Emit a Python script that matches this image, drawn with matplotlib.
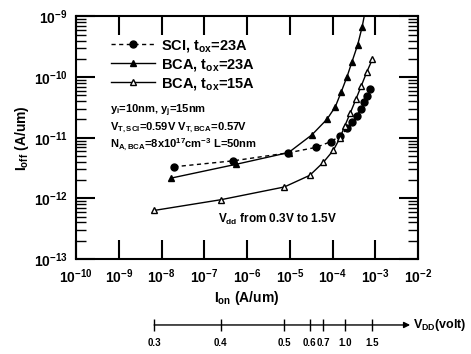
import numpy as np
import matplotlib
matplotlib.use("Agg")
import matplotlib.pyplot as plt
from matplotlib.ticker import LogLocator, NullLocator, FixedLocator

plt.rcParams["font.family"] = ["Liberation Sans", "DejaVu Sans"]
plt.rcParams["font.weight"] = "bold"
plt.rcParams["mathtext.fontset"] = "custom"
plt.rcParams["mathtext.rm"] = "Liberation Sans:bold"
plt.rcParams["mathtext.it"] = "Liberation Sans:bold"
plt.rcParams["mathtext.bf"] = "Liberation Sans:bold"
plt.rcParams["mathtext.default"] = "bf"

# supply voltage sweep 0.3 V .. 1.5 V
vdd = [0.3, 0.4, 0.5, 0.6, 0.7, 0.8, 0.9, 1.0, 1.1, 1.2, 1.3, 1.4, 1.5]

# SCI, tox = 23A
ion_sci = [1.97e-8, 4.75e-7, 9.2e-6, 4.18e-5, 9.2e-5, 1.52e-4, 2.22e-4,
           2.91e-4, 3.7e-4, 4.6e-4, 5.56e-4, 6.53e-4, 7.7e-4]
ioff_sci = [3.32e-12, 4.16e-12, 5.64e-12, 6.95e-12, 8.65e-12, 1.07e-11, 1.43e-11,
            1.8e-11, 2.3e-11, 2.99e-11, 3.9e-11, 4.9e-11, 6.27e-11]

# BCA, tox = 23A
ion_bca23 = [1.68e-8, 5.58e-7, 9.4e-6, 3.31e-5, 7.43e-5, 1.16e-4, 1.61e-4,
             2.19e-4, 2.86e-4, 3.87e-4, 4.91e-4, 6.2e-4]
ioff_bca23 = [2.16e-12, 3.65e-12, 5.7e-12, 1.12e-11, 2.02e-11, 3.23e-11, 5.77e-11,
              1.02e-10, 1.8e-10, 3.39e-10, 6.64e-10, 1.55e-9]

# BCA, tox = 15A
ion_bca15 = [6.72e-9, 2.45e-7, 7.43e-6, 2.94e-5, 6.1e-5, 1.045e-4, 1.48e-4,
             1.94e-4, 2.61e-4, 3.52e-4, 4.72e-4, 6.35e-4, 8.55e-4]
ioff_bca15 = [6.32e-13, 9.5e-13, 1.54e-12, 2.4e-12, 3.93e-12, 6.2e-12, 9.8e-12,
              1.57e-11, 2.57e-11, 4.3e-11, 7.2e-11, 1.22e-10, 1.96e-10]

vdd_ticks = [0.3, 0.4, 0.5, 0.6, 0.7, 1.0, 1.5]
vdd_labels = ["0.3", "0.4", "0.5", "0.6", "0.7", "1.0", "1.5"]

fig = plt.figure(figsize=(4.71, 3.54), dpi=100)
ax = fig.add_axes([0.1614, 0.2684, 0.7261, 0.685])

ax.plot(ion_sci, ioff_sci, "k--", marker="o", ms=5, lw=1,
        dashes=(3, 2.5), label="SCI, t$_{ox}$=23A")
ax.plot(ion_bca23, ioff_bca23, "k-", marker="^", ms=5, lw=1,
        label="BCA, t$_{ox}$=23A")
ax.plot(ion_bca15, ioff_bca15, "k-", marker="^", ms=5, lw=1, mfc="white",
        label="BCA, t$_{ox}$=15A")

ax.set_xscale("log")
ax.set_yscale("log")
ax.set_xlim(1e-10, 1e-2)
ax.set_ylim(1e-13, 1e-9)
ax.xaxis.set_major_locator(LogLocator(base=10, numticks=12))
ax.xaxis.set_minor_locator(NullLocator())
ax.yaxis.set_major_locator(LogLocator(base=10, numticks=12))
ax.yaxis.set_minor_locator(LogLocator(base=10, subs=np.arange(2, 10), numticks=12))
ax.tick_params(which="major", direction="in", length=14, width=1.5,
               top=True, right=True, labelsize=10, pad=6)
ax.tick_params(which="minor", direction="in", length=7, width=1,
               top=True, right=True)
for s in ax.spines.values():
    s.set_linewidth(1.5)

ax.set_xlabel("I$_{on}$ (A/um)", fontsize=10, fontweight="bold", labelpad=2)
ax.set_ylabel("I$_{off}$ (A/um)", fontsize=10, fontweight="bold", labelpad=2)

ax.legend(loc="upper left", bbox_to_anchor=(0.085, 0.935), frameon=False,
          fontsize=10.5, handlelength=3, handletextpad=0.4, labelspacing=0.2,
          borderaxespad=0)

ax.text(0.1, 0.61, "y$_i$=10nm, y$_j$=15nm", transform=ax.transAxes,
        fontsize=8, va="center")
ax.text(0.1, 0.542, "V$_{T,SCI}$=0.59V V$_{T,BCA}$=0.57V", transform=ax.transAxes,
        fontsize=8, va="center")
ax.text(0.1, 0.472, "N$_{A,BCA}$=8x10$^{17}$cm$^{-3}$ L=50nm",
        transform=ax.transAxes, fontsize=8, va="center")
ax.text(0.415, 0.161, "V$_{dd}$ from 0.3V to 1.5V", transform=ax.transAxes,
        fontsize=8.5, va="center")

# secondary Vdd axis, mapped onto the Ion of the tox=15A device
ax2 = fig.add_axes([0.1614, 0.082, 0.7261, 0.0001])
ax2.set_xscale("log")
ax2.set_xlim(ax.get_xlim())
for s in ax2.spines.values():
    s.set_visible(False)
ax2.set_yticks([])
ax2.xaxis.set_minor_locator(NullLocator())
tick_pos = [ion_bca15[vdd.index(v)] for v in vdd_ticks]
ax2.xaxis.set_major_locator(FixedLocator(tick_pos))
ax2.set_xticklabels(vdd_labels)
ax2.tick_params(axis="x", direction="inout", length=9, width=1, labelsize=7, pad=5)
ax2.annotate("", xy=(0.977, 0), xycoords="axes fraction",
             xytext=(tick_pos[0], 0), textcoords=("data", "axes fraction"),
             arrowprops=dict(arrowstyle="-|>", color="k", lw=1, mutation_scale=9,
                             shrinkA=0, shrinkB=0))
ax2.text(0.985, 0, "V$_{DD}$(volt)", transform=ax2.transAxes, fontsize=9,
         va="center", ha="left")

fig.savefig("out.png", dpi=100)
